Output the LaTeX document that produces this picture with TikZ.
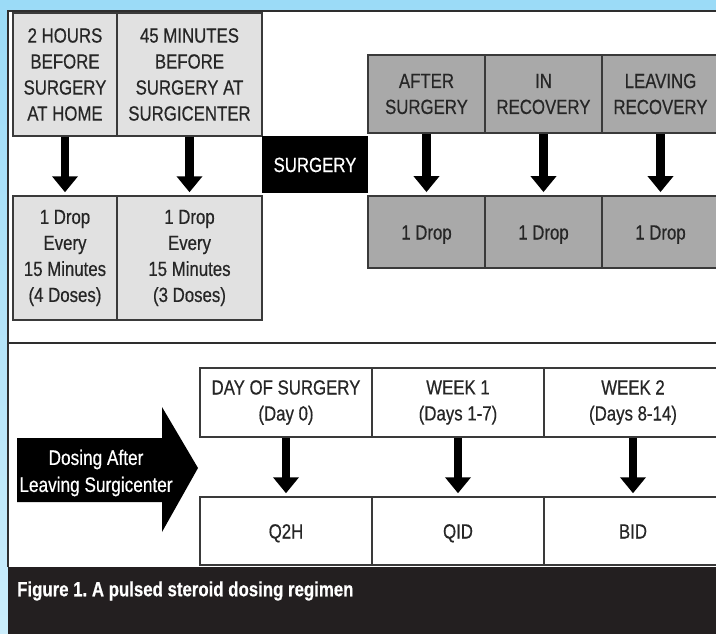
\documentclass[tikz,border=0pt]{standalone}
\usepackage{fontspec}
\setmainfont{Liberation Sans}[FakeStretch=0.82, FakeBold=0.5]
\usepackage{xcolor}
\definecolor{skyblue}{HTML}{9BDBF7}
\definecolor{skylight}{HTML}{CBEDFB}
\definecolor{framegray}{HTML}{2E2E2E}
\definecolor{boxline}{HTML}{3A3A3A}
\definecolor{palegray}{HTML}{E1E1E1}
\definecolor{midgray}{HTML}{A9A9A9}
\definecolor{captionbg}{HTML}{231F20}
\definecolor{inkgray}{HTML}{262626}
\usepackage{tikz}
\usetikzlibrary{arrows.meta, positioning}
\frenchspacing
\tikzset{
  prebox/.style ={rectangle, draw=boxline, line width=1.5pt, fill=palegray, text=inkgray, align=center,
                  inner sep=0pt, minimum height=123pt, font=\fontsize{20.5}{26}\selectfont},
  postbox/.style={rectangle, draw=boxline, line width=1.8pt, fill=midgray, text=inkgray, align=center,
                  inner sep=0pt, minimum width=117pt, font=\fontsize{20.5}{26}\selectfont},
  surgbox/.style={rectangle, fill=black, text=white, align=center, inner sep=0pt,
                  minimum width=106pt, minimum height=57pt, font=\fontsize{20.5}{26}\selectfont},
  wbox/.style   ={rectangle, draw=boxline, line width=1.5pt, fill=white, text=inkgray, align=center,
                  inner sep=0pt, minimum width=172pt, font=\fontsize{20.5}{26}\selectfont},
  oneline/.style={text height=15pt, text depth=0pt},
  darr/.style   ={-{Triangle[width=25pt, length=16pt]}, line width=8.5pt, color=black, shorten >=3pt},
  dosetxt/.style={text=white, align=center, inner sep=0pt, font=\fontsize{21}{27}\selectfont},
  caplbl/.style ={text=white, anchor=west, inner sep=0pt, font=\bfseries\fontsize{20.5}{24}\selectfont},
}
\begin{document}
\begin{tikzpicture}[x=1pt, y=-1pt]
  \useasboundingbox (0,0) rectangle (716,634);
  \clip (0,0) rectangle (716,634);
  % page ground and frame
  \shade[top color=skyblue, bottom color=skylight] (0,0) rectangle (716,634);
  \fill[white] (8,11) rectangle (716,567);
  \draw[framegray, line width=1.5pt] (8,567) -- (8,11) -- (716,11);
  % before surgery
  \node[prebox, minimum width=104pt] (home) at (65,74.5) {2 HOURS\\BEFORE\\SURGERY\\AT HOME};
  \node[prebox, minimum width=145pt] (center) at (189.5,74.5) {45 MINUTES\\BEFORE\\SURGERY AT\\SURGICENTER};
  \node[prebox, minimum width=104pt, minimum height=124pt] (homed) at (65,258) {1 Drop\\Every\\15 Minutes\\(4 Doses)};
  \node[prebox, minimum width=145pt, minimum height=124pt] (centerd) at (189.5,258) {1 Drop\\Every\\15 Minutes\\(3 Doses)};
  \draw[darr] (home.south) -- (homed.north);
  \draw[darr] (center.south) -- (centerd.north);
  \node[surgbox, oneline] (surgery) at (315,164.5) {SURGERY};
  % after surgery
  \foreach \n/\x/\lab in {after/426.5/{AFTER\\SURGERY}, inrec/543.5/{IN\\RECOVERY}, leave/660.5/{LEAVING\\RECOVERY}} {
    \node[postbox, minimum height=78pt] (\n) at (\x,94) {\lab};
    \node[postbox, oneline, minimum height=72pt] (\n d) at (\x,232) {1 Drop};
    \draw[darr] (\n.south) -- (\n d.north);
  }
  % divider
  \draw[framegray, line width=2.5pt] (8,343) -- (716,343);
  % after leaving surgicenter
  \fill[black] (17,438) -- (162,438) -- (162,407) -- (198,468) -- (162,532) -- (162,502) -- (17,502) -- cycle;
  \node[dosetxt] (dosing) at (96,473) {Dosing After\\Leaving Surgicenter};
  \foreach \n/\x/\w/\lab/\rx in {day/286/172/{DAY OF SURGERY\\(Day 0)}/Q2H, wka/458/172/{WEEK 1\\(Days 1-7)}/QID, wkb/633/178/{WEEK 2\\(Days 8-14)}/BID} {
    \node[wbox, minimum width=\w pt, minimum height=69pt] (\n) at (\x,402.5) {\lab};
    \node[wbox, oneline, minimum width=\w pt, minimum height=68pt] (\n d) at (\x,531) {\rx};
    \draw[darr] (\n.south) -- (\n d.north);
  }
  % caption
  \fill[captionbg] (8,567) rectangle (716,634);
  \node[caplbl] (caption) at (17,591) {Figure 1. A pulsed steroid dosing regimen};
\end{tikzpicture}
\end{document}
